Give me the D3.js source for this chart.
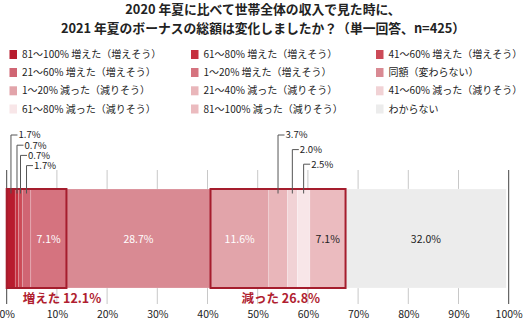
<!DOCTYPE html>
<html><head><meta charset="utf-8">
<script src="https://cdn.jsdelivr.net/npm/d3@7"></script>
<style>
html,body{margin:0;padding:0;background:#fff;}
text{font-family:"Noto Sans CJK JP","Noto Sans",sans-serif;}
</style></head>
<body><svg id="c" width="526" height="322"></svg>
<script>
const titleLines = ["2020 年夏に比べて世帯全体の収入で見た時に、", "2021 年夏のボーナスの総額は変化しましたか？（単一回答、n=425）"];
const categories = [
  "81〜100% 増えた（増えそう）","61〜80% 増えた（増えそう）","41〜60% 増えた（増えそう）",
  "21〜60% 増えた（増えそう）","1〜20% 増えた（増えそう）","同額（変わらない）",
  "1〜20% 減った（減りそう）","21〜40% 減った（減りそう）","41〜60% 減った（減りそう）",
  "61〜80% 減った（減りそう）","81〜100% 減った（減りそう）","わからない"
];
const values = [1.7, 0.7, 0.7, 1.7, 7.1, 28.7, 11.6, 3.7, 2.0, 2.5, 7.1, 32.0];
const colors = ["#b81c2e","#c5303f","#cc4a57","#d06573","#d5737f","#d98a93",
                "#e2a4aa","#e9b6ba","#f1d2d5","#f8e6e8","#ebbbbf","#ececec"];
const tickValues = [0,10,20,30,40,50,60,70,80,90,100];
const groupNames = ["増えた","減った"];
const groupTotals = [12.1, 26.8];
const groupRanges = [[0,4],[6,10]]; // category index ranges
const calloutGroups = [[0,1,2,3],[7,8,9]];
const insideLabels = [4,5,6,10,11];

const svg = d3.select("#c");
const x = d3.scaleLinear().domain([0,100]).range([6.7,508.7]);
const barTop = 189, barBot = 288;

// title
svg.selectAll("text.title").data(titleLines).join("text")
  .attr("x",263).attr("y",(d,i)=>14+i*18.5).attr("text-anchor","middle")
  .attr("font-size",12.8).attr("font-weight","bold").attr("fill","#222").text(d=>d);

// legend
const colX = [9.5,191,376], rowY = [54.5,72.5,90.8,109];
const lg = svg.append("g");
categories.forEach((c,i)=>{
  const cx = colX[i%3], cy = rowY[Math.floor(i/3)];
  lg.append("rect").attr("x",cx).attr("y",cy-4.5).attr("width",7.5).attr("height",9).attr("fill",colors[i]);
  lg.append("text").attr("x",cx+12.5).attr("y",cy+3.6).attr("font-size",10).attr("fill","#222").text(c);
});

// gridlines
svg.append("g").selectAll("line").data(tickValues).join("line")
  .attr("x1",d=>x(d)).attr("x2",d=>x(d)).attr("y1",170).attr("y2",304)
  .attr("stroke",d=>(d===0||d===100)?"#444":"#c8c8c8").attr("stroke-width",1);

// axis labels
const ax = d3.axisBottom(x).tickValues(tickValues).tickFormat(d=>d+"%").tickSize(0);
const axg = svg.append("g").attr("transform","translate(0,305)").call(ax);
axg.select(".domain").remove();
axg.selectAll("text").attr("font-size",10.5).attr("fill","#222").attr("dy","0.95em")
  .style("font-family","'Noto Sans CJK JP',sans-serif");

// stacked bar
let cum = 0;
const segs = values.map((v,i)=>{const s={i,v,x0:cum,x1:cum+v}; cum+=v; return s;});
svg.append("g").selectAll("rect").data(segs).join("rect")
  .attr("x",d=>x(d.x0)).attr("width",d=>x(d.x1)-x(d.x0))
  .attr("y",barTop).attr("height",barBot-barTop)
  .attr("fill",d=>colors[d.i]).attr("stroke","rgba(255,255,255,0.35)").attr("stroke-width",0.6);

// inside labels
svg.append("g").selectAll("text").data(insideLabels.map(i=>segs[i])).join("text")
  .attr("x",d=>x((d.x0+d.x1)/2)).attr("y",(barTop+barBot)/2+4)
  .attr("text-anchor","middle").attr("font-size",10.5)
  .attr("fill",d=>d.i>=10?"#222":"#fff").text(d=>d.v.toFixed(1)+"%");

// group boxes
const labelOffsets = [16, 31];
groupRanges.forEach((r,gi)=>{
  const x0 = segs[r[0]].x0, x1 = segs[r[1]].x1;
  svg.append("rect").attr("x",x(x0)).attr("y",barTop).attr("width",x(x1)-x(x0)).attr("height",barBot-barTop)
    .attr("fill","none").attr("stroke","#a51d2d").attr("stroke-width",2);
  svg.append("text").attr("x",x(x0)+labelOffsets[gi]).attr("y",303)
    .attr("font-size",12.5).attr("font-weight","bold").attr("fill","#b01e30")
    .text(groupNames[gi]+" "+groupTotals[gi].toFixed(1)+"%");
});

// callouts
const calloutStart = [135,135], calloutStep = [10.2,14.6];
calloutGroups.forEach((g,gi)=>{
  g.forEach((idx,k)=>{
    const s = segs[idx];
    const lx = x((s.x0+s.x1)/2);
    const ly = calloutStart[gi]+k*calloutStep[gi];
    svg.append("path").attr("d",`M${lx},${barTop+4.5}V${ly}H${lx+6.5}`)
      .attr("fill","none").attr("stroke","#555").attr("stroke-width",1);
    svg.append("text").attr("x",lx+7.5).attr("y",ly+3.3).attr("font-size",9.6).attr("fill","#222")
      .text(s.v.toFixed(1)+"%");
  });
});
</script></body></html>
